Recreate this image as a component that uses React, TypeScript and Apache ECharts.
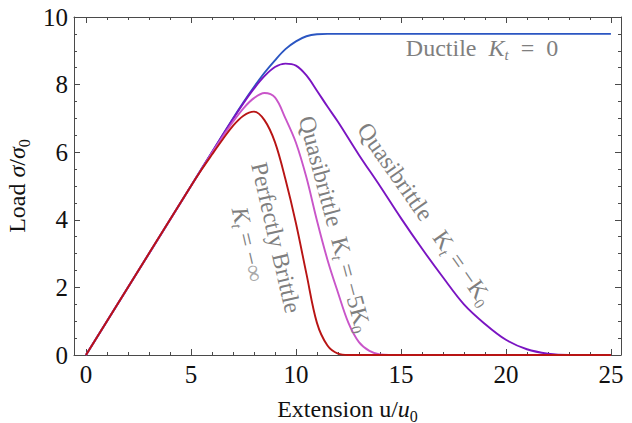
import React, { useEffect, useRef } from "react";
import * as echarts from "echarts";

const FONT = "'Liberation Serif', 'Times New Roman', serif";

// Extension values (u/u0) and loads (sigma/sigma0)
const ductileX = [0, 5, 6, 7, 7.5, 8, 8.5, 9, 9.5, 10, 10.5, 11, 11.5, 12, 13, 25];
const ductileY = [0, 5, 6, 7, 7.48, 7.93, 8.35, 8.72, 9.05, 9.28, 9.43, 9.49, 9.5, 9.5, 9.5, 9.5];

const quasi1X = [0, 5, 6, 7, 7.5, 8, 8.5, 9, 9.5, 10, 10.5, 11, 11.5, 12, 13, 14, 15, 16, 17, 18, 19, 20, 21, 22, 23, 25];
const quasi1Y = [0, 5, 6, 6.98, 7.45, 7.88, 8.25, 8.52, 8.62, 8.56, 8.27, 7.82, 7.35, 6.9, 5.92, 5.0, 4.05, 3.15, 2.3, 1.5, 0.92, 0.45, 0.17, 0.04, 0.0, 0];

const quasi5X = [0, 5, 6, 6.5, 7, 7.5, 8, 8.5, 9, 9.5, 10, 10.5, 11, 11.5, 12, 12.5, 13, 13.5, 14, 15, 25];
const quasi5Y = [0, 5, 5.98, 6.45, 6.9, 7.3, 7.6, 7.75, 7.62, 7.0, 6.28, 5.25, 3.98, 2.82, 1.85, 0.95, 0.38, 0.12, 0.02, 0, 0];

const brittleX = [0, 5, 5.5, 6, 6.5, 7, 7.5, 8, 8.5, 9, 9.5, 10, 10.5, 11, 11.5, 12, 12.5, 13, 25];
const brittleY = [0, 5, 5.48, 5.93, 6.37, 6.78, 7.08, 7.2, 6.95, 6.3, 5.2, 3.9, 2.4, 0.95, 0.28, 0.04, 0, 0, 0];

const xMajorTicks = [0, 5, 10, 15, 20, 25];
const xMinorTicks = [1, 2, 3, 4, 6, 7, 8, 9, 11, 12, 13, 14, 16, 17, 18, 19, 21, 22, 23, 24];

const COLORS = {
  ductile: "#2b56c2",
  quasi1: "#7a14c2",
  quasi5: "#c955c9",
  brittle: "#b81414",
};

const pairs = (xs: number[], ys: number[]) => xs.map((x, i) => [x, ys[i]]);

const FRAME = "#4a4a4a";
const LABEL_GREY = "#7f7f7f";

const labelRich = (size: number) => ({
  r: { fontSize: size, fontFamily: FONT, fill: LABEL_GREY, lineHeight: size + 5 },
  i: { fontSize: size, fontFamily: FONT, fontStyle: "italic", fill: LABEL_GREY, lineHeight: size + 5 },
  s: { fontSize: Math.round(size * 0.62), fontFamily: FONT, fontStyle: "italic", fill: LABEL_GREY, lineHeight: 13, verticalAlign: "bottom" },
  z: { fontSize: Math.round(size * 0.62), fontFamily: FONT, fill: LABEL_GREY, lineHeight: 13, verticalAlign: "bottom" },
  g: { fontSize: size, fontFamily: FONT, fill: "#a8a8a8", lineHeight: size + 5 },
});

const axisTitleRich = {
  r: { fontSize: 24, fontFamily: FONT, color: "#111", lineHeight: 30 },
  i: { fontSize: 24, fontFamily: FONT, fontStyle: "italic", color: "#111", lineHeight: 30 },
  s: { fontSize: 16, fontFamily: FONT, color: "#111", lineHeight: 15, verticalAlign: "bottom" },
};

const deg = (d: number) => (d * Math.PI) / 180;

export default function App() {
  const ref = useRef<HTMLDivElement>(null);

  useEffect(() => {
    if (!ref.current) return;
    const chart = echarts.init(ref.current, undefined, { renderer: "svg" });

    const xMin = -0.57;
    const xMax = 25.48;

    const xBase = (position: "top" | "bottom", values: number[], len: number, showLine: boolean, showLabel: boolean, name?: string) => ({
      type: "value",
      position,
      min: xMin,
      max: xMax,
      name: name,
      nameLocation: "middle",
      nameGap: 39,
      nameTextStyle: { rich: axisTitleRich },
      axisLine: { show: showLine, onZero: false, lineStyle: { color: FRAME, width: 1 } },
      axisTick: { show: true, inside: true, length: len, customValues: values, lineStyle: { color: FRAME, width: 1 } },
      axisLabel: {
        show: showLabel,
        customValues: values,
        fontSize: 25,
        fontFamily: FONT,
        color: "#111",
        margin: 7,
      },
      splitLine: { show: false },
    });

    const yBase = (position: "left" | "right", showLabel: boolean, name?: string) => ({
      type: "value",
      position,
      min: 0,
      max: 10,
      interval: 2,
      name: name,
      nameLocation: "middle",
      nameGap: 38,
      nameRotate: 90,
      nameTextStyle: { rich: axisTitleRich },
      axisLine: { show: true, onZero: false, lineStyle: { color: FRAME, width: 1 } },
      axisTick: { show: true, inside: true, length: 6, lineStyle: { color: FRAME, width: 1 } },
      minorTick: { show: true, splitNumber: 4, length: 3, lineStyle: { color: FRAME, width: 1 } },
      axisLabel: {
        show: showLabel,
        fontSize: 25,
        fontFamily: FONT,
        color: "#111",
        margin: 6,
      },
      splitLine: { show: false },
      minorSplitLine: { show: false },
    });

    const line = (name: string, xs: number[], ys: number[], color: string) => ({
      type: "line",
      name,
      xAxisIndex: 0,
      yAxisIndex: 0,
      data: pairs(xs, ys),
      showSymbol: false,
      smooth: 0.35,
      lineStyle: { color, width: 1.9 },
      itemStyle: { color },
      clip: true,
      z: 3,
    });

    chart.setOption({
      animation: false,
      backgroundColor: "#ffffff",
      grid: { left: 74, right: 11, top: 17, bottom: 68, containLabel: false, outerBoundsMode: "none" },
      xAxis: [
        xBase("bottom", xMajorTicks, 6, true, true, "{r|Extension u/}{i|u}{s|0}"),
        xBase("bottom", xMinorTicks, 3, false, false),
        xBase("top", xMajorTicks, 6, true, false),
        xBase("top", xMinorTicks, 3, false, false),
      ],
      yAxis: [yBase("left", true, "{r|Load }{i|σ}{r|/}{i|σ}{s|0}"), yBase("right", false)],
      series: [
        line("Ductile", ductileX, ductileY, COLORS.ductile),
        line("Quasibrittle -K0", quasi1X, quasi1Y, COLORS.quasi1),
        line("Quasibrittle -5K0", quasi5X, quasi5Y, COLORS.quasi5),
        line("Perfectly Brittle", brittleX, brittleY, COLORS.brittle),
      ],
      graphic: [
        {
          type: "text",
          x: 482,
          y: 48,
          z: 10,
          style: {
            text: "{r|Ductile}{r|  }{i|K}{s|t}{r|  =  0}",
            rich: labelRich(24),
            align: "center",
            verticalAlign: "middle",
          },
        },
        {
          type: "text",
          x: 425,
          y: 214,
          rotation: deg(-55),
          z: 10,
          style: {
            text: "{r|Quasibrittle   K}{s|t}{r| = −K}{z|0}",
            rich: labelRich(24),
            align: "center",
            verticalAlign: "middle",
          },
        },
        {
          type: "text",
          x: 335,
          y: 224,
          rotation: deg(-75),
          z: 10,
          style: {
            text: "{r|Quasibrittle  K}{s|t}{r| = −5K}{z|0}",
            rich: labelRich(24),
            align: "center",
            verticalAlign: "middle",
          },
        },
        {
          type: "text",
          x: 262,
          y: 241,
          rotation: deg(-77),
          z: 10,
          style: {
            text: "{r|Perfectly Brittle}\n{i|K}{s|t}{r| = −}{g|∞}",
            rich: labelRich(24),
            align: "center",
            verticalAlign: "middle",
          },
        },
      ],
    });

    return () => chart.dispose();
  }, []);

  return (
    <div
      ref={ref}
      style={{ position: "absolute", left: 0, top: 0, width: 632, height: 423, background: "#fff" }}
    />
  );
}
